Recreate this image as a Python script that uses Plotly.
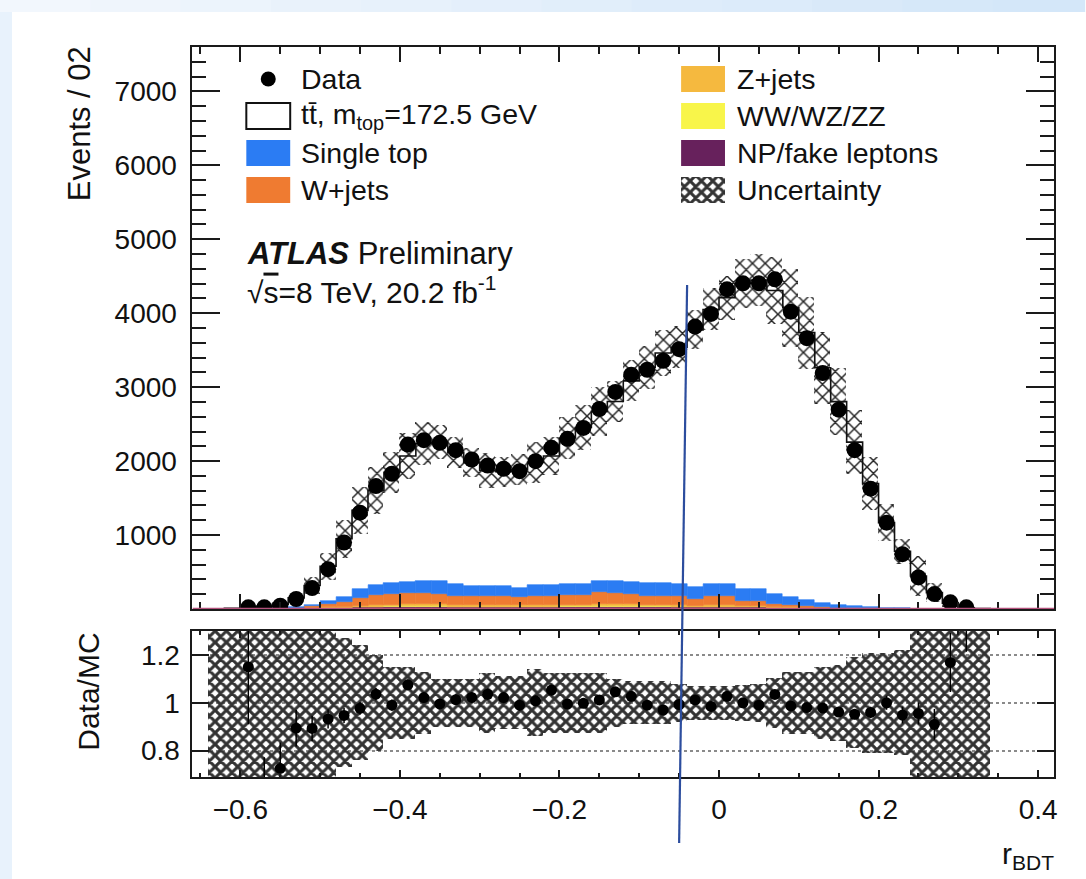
import numpy as np
import plotly.graph_objects as go

# ---------------------------------------------------------------- data
# r_BDT bin centres (bin width 0.02)
bin_centres = [-0.63, -0.61, -0.59, -0.57, -0.55, -0.53, -0.51, -0.49, -0.47, -0.45,
               -0.43, -0.41, -0.39, -0.37, -0.35, -0.33, -0.31, -0.29, -0.27, -0.25,
               -0.23, -0.21, -0.19, -0.17, -0.15, -0.13, -0.11, -0.09, -0.07, -0.05,
               -0.03, -0.01, 0.01, 0.03, 0.05, 0.07, 0.09, 0.11, 0.13, 0.15,
               0.17, 0.19, 0.21, 0.23, 0.25, 0.27, 0.29, 0.31, 0.33]

data_counts = [None, None, 23, 23, 45, 135, 283, 539, 899, 1303,
               1662, 1829, 2224, 2283, 2247, 2148, 2022, 1941, 1897, 1864,
               1999, 2180, 2301, 2449, 2705, 2936, 3168, 3235, 3357, 3514,
               3819, 3990, 4323, 4404, 4404, 4458, 4021, 3662, 3190, 2696,
               2148, 1627, 1168, 741, 427, 202, 90, 23, None]

ttbar = [3, 8, 18, 31, 50, 121, 257, 466, 789, 1069,
         1284, 1492, 1709, 1862, 1886, 1780, 1668, 1569, 1551, 1603,
         1663, 1745, 1978, 2114, 2288, 2432, 2717, 2920, 3116, 3199,
         3482, 3714, 3874, 4132, 4180, 4102, 3916, 3612, 3177, 2745,
         2216, 1670, 1154, 773, 443, 220, 76, 15, 5]

single_top = [0, 0, 1, 2, 5, 12, 25, 47, 60, 110,
              132, 150, 148, 160, 167, 158, 132, 125, 127, 123,
              140, 143, 147, 150, 160, 153, 166, 166, 165, 162,
              157, 165, 165, 160, 158, 137, 110, 87, 60, 42,
              28, 17, 9, 5, 2, 1, 1, 0, 0]

w_jets = [0, 0, 1, 2, 4, 11, 22, 43, 69, 110,
          133, 145, 149, 149, 143, 126, 124, 124, 123, 107,
          124, 126, 130, 131, 157, 155, 139, 125, 123, 123,
          90, 117, 115, 73, 72, 41, 27, 21, 13, 9,
          6, 4, 2, 2, 1, 1, 0, 0, 0]

z_jets = [0, 0, 0, 0, 1, 2, 4, 8, 12, 19,
          24, 26, 27, 27, 26, 23, 22, 23, 22, 20,
          23, 23, 24, 24, 29, 28, 26, 23, 23, 22,
          17, 22, 22, 14, 14, 9, 6, 5, 3, 2,
          2, 1, 1, 0, 0, 0, 0, 0, 0]

diboson = [0, 0, 0, 0, 0, 1, 1, 2, 3, 4,
           5, 6, 6, 6, 6, 5, 5, 5, 5, 4,
           5, 5, 5, 5, 6, 6, 6, 5, 5, 5,
           4, 5, 5, 3, 3, 2, 2, 1, 1, 1,
           0, 0, 0, 0, 0, 0, 0, 0, 0]

fake_leptons = [0, 0, 0, 1, 2, 4, 8, 12, 16, 22,
                26, 28, 30, 30, 30, 28, 27, 28, 28, 26,
                28, 28, 29, 30, 33, 33, 31, 29, 29, 28,
                24, 28, 28, 22, 21, 16, 13, 11, 8, 6,
                4, 3, 2, 1, 1, 0, 0, 0, 0]

# relative uncertainty on the total prediction
rel_unc = [0.6, 0.6, 0.6, 0.6, 0.45, 0.4, 0.35, 0.31, 0.27, 0.24,
           0.2, 0.15, 0.15, 0.13, 0.1, 0.1, 0.1, 0.125, 0.11, 0.11,
           0.14, 0.125, 0.125, 0.125, 0.125, 0.1, 0.09, 0.09, 0.09, 0.08,
           0.07, 0.07, 0.07, 0.075, 0.08, 0.105, 0.13, 0.13, 0.15, 0.16,
           0.19, 0.21, 0.21, 0.22, 0.6, 0.6, 0.6, 0.6, 0.6]

x_ticks = [-0.6, -0.4, -0.2, 0, 0.2, 0.4]
main_y_ticks = [1000, 2000, 3000, 4000, 5000, 6000, 7000]
ratio_y_ticks = [0.8, 1.0, 1.2]
ratio_y_text = ["0.8", "1", "1.2"]

legend_left = ["Data", "tt\u0304, m<sub>top</sub>=172.5 GeV", "Single top", "W+jets"]
legend_right = ["Z+jets", "WW/WZ/ZZ", "NP/fake leptons", "Uncertainty"]

# ---------------------------------------------------------------- styles
FONT = "Liberation Sans, Arial, Helvetica, sans-serif"
C_TT = "#ffffff"
C_ST = "#2b7cf3"
C_W = "#ef7b31"
C_Z = "#f5b93f"
C_VV = "#f8f54a"
C_NP = "#67215c"
INK = "#111111"

W, H = 1086, 879
FX0, FX1 = 193, 1057          # frame left/right (px)
MAIN_T, MAIN_B = 47, 609      # main pad top/bottom (px)
RAT_T, RAT_B = 631, 777       # ratio pad top/bottom (px)

def fx(px):
    return px / W

def fy(py):
    return 1 - py / H

# ---------------------------------------------------------------- derived
c = np.array(bin_centres)
bw = 0.02
stack_parts = [
    ("NP/fake leptons", np.array(fake_leptons, float), C_NP),
    ("WW/WZ/ZZ", np.array(diboson, float), C_VV),
    ("Z+jets", np.array(z_jets, float), C_Z),
    ("W+jets", np.array(w_jets, float), C_W),
    ("Single top", np.array(single_top, float), C_ST),
]
total = np.array(ttbar, float) + sum(p[1] for p in stack_parts)
unc = np.array(rel_unc)

mask = np.array([d is not None for d in data_counts])
d_x = c[mask]
d_y = np.array([d for d in data_counts if d is not None], float)
d_mc = total[mask]
ratio = d_y / d_mc
ratio_err = np.sqrt(d_y) / d_mc

fig = go.Figure()

# stacked backgrounds
base = np.zeros_like(total)
for name, vals, col in stack_parts:
    fig.add_trace(go.Bar(x=c, y=vals, base=base.copy(), width=bw, name=name,
                         marker=dict(color=col, line=dict(color=col, width=0.6)),
                         xaxis="x", yaxis="y", hoverinfo="skip"))
    base = base + vals

# total prediction outline (ttbar on top, white fill)
edges = np.round(np.append(c - bw / 2, c[-1] + bw / 2), 4)
xs = np.concatenate([[edges[0]], edges[:-1], [edges[-1], edges[-1]]])
ys = np.concatenate([[0], total, [total[-1], 0]])
fig.add_trace(go.Scatter(x=xs, y=ys, mode="lines", line=dict(color=INK, width=1.6, shape="hv"),
                         xaxis="x", yaxis="y", hoverinfo="skip"))

def hatch(size, solidity, fg="#1a1a1a"):
    return dict(color="rgba(0,0,0,0)",
                pattern=dict(shape="x", fgcolor=fg, bgcolor="rgba(0,0,0,0)",
                             size=size, solidity=solidity, fillmode="replace"),
                line=dict(width=0))

# uncertainty band in main pad
fig.add_trace(go.Bar(x=c, y=2 * unc * total, base=total * (1 - unc), width=bw,
                     marker=hatch(9, 0.3, "#222222"), xaxis="x", yaxis="y", hoverinfo="skip"))

# data
fig.add_trace(go.Scatter(x=d_x, y=d_y, mode="markers",
                         marker=dict(color="black", size=16),
                         error_y=dict(type="data", array=np.sqrt(d_y), color="black",
                                      thickness=1.5, width=0),
                         xaxis="x", yaxis="y", hoverinfo="skip"))

# ratio pad: uncertainty band and data/MC
fig.add_trace(go.Bar(x=c, y=2 * unc, base=1 - unc, width=bw,
                     marker=hatch(8, 0.62, "#333333"), xaxis="x2", yaxis="y2", hoverinfo="skip"))
fig.add_trace(go.Scatter(x=d_x, y=ratio, mode="markers",
                         marker=dict(color="black", size=11),
                         error_y=dict(type="data", array=ratio_err, color="black",
                                      thickness=1.5, width=0),
                         xaxis="x2", yaxis="y2", hoverinfo="skip"))

# ---------------------------------------------------------------- legend (pixel overlay)
shapes = []
annotations = []

# page background: white sheet with a pale blue border
shapes.append(dict(type="rect", xref="paper", yref="paper", x0=0, x1=1, y0=0, y1=1,
                   fillcolor="#e8f2fc", line=dict(width=0), layer="below"))
n_seg = 12
top_cols = np.linspace([242, 247, 253], [212, 231, 249], n_seg)
for i in range(n_seg):
    r, g, b = top_cols[i].astype(int)
    shapes.append(dict(type="rect", xref="paper", yref="paper",
                       x0=i / n_seg, x1=(i + 1) / n_seg + 0.002, y0=fy(12), y1=1,
                       fillcolor=f"rgb({r},{g},{b})", line=dict(width=0), layer="below"))
shapes.append(dict(type="rect", xref="paper", yref="paper", x0=fx(12), x1=1, y0=0, y1=fy(12),
                   fillcolor="white", line=dict(width=0), layer="below"))

ICON_W, ICON_H = 44, 26
left_icon_x, right_icon_x = 247, 683
left_text_x, right_text_x = 300, 737
left_rows = [79, 116, 153, 190]
right_rows = [79, 116, 153, 190]
fs_leg = 28.5

# Data marker
fig.add_trace(go.Scatter(x=[left_icon_x + ICON_W / 2], y=[left_rows[0]], mode="markers",
                         marker=dict(color="black", size=15), xaxis="x3", yaxis="y3",
                         hoverinfo="skip"))
left_fill = [None, C_TT, C_ST, C_W]
for i, col in enumerate(left_fill):
    if col is None:
        continue
    y = left_rows[i]
    shapes.append(dict(type="rect", xref="x3", yref="y3",
                       x0=left_icon_x, x1=left_icon_x + ICON_W,
                       y0=y - ICON_H / 2, y1=y + ICON_H / 2, fillcolor=col,
                       line=dict(color=INK if col == C_TT else col, width=2 if col == C_TT else 0)))
for col, y in zip([C_Z, C_VV, C_NP], right_rows[:3]):
    shapes.append(dict(type="rect", xref="x3", yref="y3",
                       x0=right_icon_x, x1=right_icon_x + ICON_W,
                       y0=y - ICON_H / 2, y1=y + ICON_H / 2, fillcolor=col, line=dict(width=0)))
fig.add_trace(go.Bar(x=[right_icon_x + ICON_W / 2], y=[ICON_H], base=[right_rows[3] - ICON_H / 2],
                     width=[ICON_W], marker=hatch(8, 0.62, "#333333"), xaxis="x3", yaxis="y3",
                     hoverinfo="skip"))

for txt, y in zip(legend_left, left_rows):
    annotations.append(dict(xref="x3", yref="y3", x=left_text_x, y=y, text=txt, showarrow=False,
                            xanchor="left", yanchor="middle", font=dict(size=fs_leg, color=INK)))
for txt, y in zip(legend_right, right_rows):
    annotations.append(dict(xref="x3", yref="y3", x=right_text_x, y=y, text=txt, showarrow=False,
                            xanchor="left", yanchor="middle", font=dict(size=fs_leg, color=INK)))

annotations.append(dict(xref="x3", yref="y3", x=246, y=253,
                        text="<b><i>ATLAS</i></b> Preliminary", showarrow=False,
                        xanchor="left", yanchor="middle", font=dict(size=31, color=INK)))
annotations.append(dict(xref="x3", yref="y3", x=246, y=290,
                        text="\u221a<span style='text-decoration:overline'>s</span>=8 TeV, 20.2 fb<sup>-1</sup>",
                        showarrow=False, xanchor="left", yanchor="middle",
                        font=dict(size=30, color=INK)))

# axis titles
annotations.append(dict(xref="x3", yref="y3", x=80, y=MAIN_T - 3, text="Events / 02",
                        textangle=-90, showarrow=False, xanchor="center", yanchor="top",
                        font=dict(size=31, color=INK)))
annotations.append(dict(xref="x3", yref="y3", x=88, y=RAT_T, text="Data/MC",
                        textangle=-90, showarrow=False, xanchor="center", yanchor="top",
                        font=dict(size=30, color=INK)))
annotations.append(dict(xref="x3", yref="y3", x=FX1 + 2, y=855, text="r<sub>BDT</sub>",
                        showarrow=False, xanchor="right", yanchor="middle",
                        font=dict(size=30, color=INK)))

# zero baseline of the stack
shapes.append(dict(type="line", xref="x", yref="y", x0=-0.66, x1=0.42, y0=0, y1=0,
                   line=dict(color="#b4527c", width=2.5)))

# hand-drawn marker line across the panels
shapes.append(dict(type="line", xref="x3", yref="y3", x0=689, y0=285, x1=681, y1=843,
                   line=dict(color="#2c4d9e", width=2.2)))

axis_common = dict(showline=True, linecolor="#1a1a1a", linewidth=2, mirror="ticks",
                   ticks="inside", tickcolor="#1a1a1a", tickwidth=1.5, zeroline=False,
                   showgrid=False, fixedrange=True,
                   tickfont=dict(family=FONT, size=28, color=INK))

fig.update_layout(
    width=W, height=H, autosize=False,
    margin=dict(l=0, r=0, t=0, b=0),
    paper_bgcolor="white", plot_bgcolor="rgba(0,0,0,0)",
    font=dict(family=FONT, color=INK),
    barmode="overlay", bargap=0, showlegend=False,
    xaxis=dict(axis_common, domain=[fx(FX0), fx(FX1)], anchor="y", range=[-0.66, 0.42],
               tickvals=x_ticks, showticklabels=False, ticklen=15,
               minor=dict(dtick=0.05, tick0=0, ticks="inside", ticklen=7, tickcolor="#1a1a1a")),
    yaxis=dict(axis_common, domain=[fy(MAIN_B), fy(MAIN_T)], anchor="x", range=[0, 7600],
               tickvals=main_y_ticks, ticklen=28, ticklabelstandoff=8,
               minor=dict(dtick=200, tick0=0, ticks="inside", ticklen=14, tickcolor="#1a1a1a")),
    xaxis2=dict(axis_common, domain=[fx(FX0), fx(FX1)], anchor="y2", range=[-0.66, 0.42],
                tickvals=x_ticks, ticklen=7, ticklabelstandoff=6,
                minor=dict(dtick=0.05, tick0=0, ticks="inside", ticklen=4, tickcolor="#1a1a1a")),
    yaxis2=dict(axis_common, domain=[fy(RAT_B), fy(RAT_T)], anchor="x2", range=[0.69, 1.3],
                tickvals=ratio_y_ticks, ticktext=ratio_y_text, ticklen=17, ticklabelstandoff=5,
                showgrid=True, gridcolor="#8a8a8a", gridwidth=1.5, griddash="dot"),
    xaxis3=dict(domain=[0, 1], anchor="y3", range=[0, W], visible=False, fixedrange=True),
    yaxis3=dict(domain=[0, 1], anchor="x3", range=[H, 0], visible=False, fixedrange=True),
    shapes=shapes,
    annotations=annotations,
)

fig.write_html("out.html")
